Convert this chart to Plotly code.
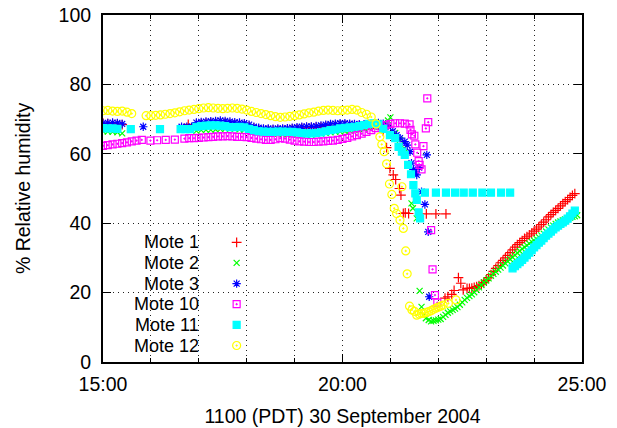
import plotly.graph_objects as go

def hours(start, step, n):
    return [round(start + step * i, 3) for i in range(n)]

# ---------------- data (hours since midnight, % RH) ----------------
# Mote 1
m1_t = (hours(15.0, 0.1, 5) + [16.78] + hours(16.95, 0.1, 40)
        + [20.92, 20.99, 21.06, 21.11, 21.19, 21.22, 21.27, 21.31, 21.38, 21.75, 21.95, 22.16]
        + [22.14, 22.2, 22.28, 22.33, 22.42, 22.47, 22.52, 22.6]
        + hours(22.65, 0.05, 45))
m1_v = ([68.8, 68.7, 68.6, 68.5, 68.4] + [68.5]
        + [68.6, 68.7, 68.8, 68.9, 69.0, 69.0, 68.9, 68.7, 68.5, 68.4, 68.2, 67.9, 67.4, 67.1,
           66.9, 66.9, 66.8, 66.8, 66.9, 67.0, 67.1, 67.2, 67.4, 67.5, 67.5, 67.6, 67.7, 67.9,
           68.1, 68.2, 68.3, 68.3, 68.2, 68.1, 68.0, 68.1, 68.3, 68.5, 68.3, 66.5]
        + [61.8, 55.8, 53.9, 52.6, 50.0, 48.1, 42.8, 43.0, 42.8, 42.7, 42.7, 42.7]
        + [18.4, 18.8, 19.5, 20.6, 24.3, 22.7, 20.8, 21.2]
        + [21.2, 21.3, 21.5, 21.7, 22.0, 22.4, 22.9, 23.5, 24.3, 25.2, 26.1, 27.0, 27.8, 28.6,
           29.3, 30.0, 30.7, 31.5, 32.3, 33.1, 33.8, 34.4, 35.0, 35.6, 36.1, 36.6, 37.1, 37.7,
           38.3, 38.9, 39.6, 40.3, 41.0, 41.8, 42.5, 43.1, 43.7, 44.3, 45.0, 45.6, 46.2, 46.8,
           47.4, 48.0, 48.5])

# Mote 2
m2_t = (hours(15.0, 0.1, 5) + hours(16.95, 0.1, 41) + [21.0]
        + [21.1, 21.2, 21.29, 21.44, 21.47, 21.52, 21.55, 21.61, 21.65, 21.69, 21.74, 21.8, 21.85, 21.9]
        + hours(21.95, 0.05, 60))
m2_v = ([66.5, 66.4, 66.3, 66.2, 65.9]
        + [66.6, 66.8, 66.9, 66.9, 67.0, 67.1, 67.2, 67.3, 67.2, 67.0, 66.9, 66.8, 66.6, 66.3,
           66.0, 65.9, 65.8, 65.8, 65.7, 65.6, 65.6, 65.5, 65.5, 65.4, 65.5, 65.6, 65.8, 66.0,
           66.2, 66.3, 66.4, 66.5, 66.7, 66.9, 67.1, 67.3, 67.5, 67.8, 68.2, 68.8, 69.6]
        + [70.5]
        + [66.0, 64.0, 61.6, 45.7, 44.3, 48.6, 41.4, 20.5, 15.9, 13.5, 12.6, 12.1, 11.7, 11.9]
        + [12.0, 12.2, 12.4, 13.0, 13.6, 14.2, 14.6, 15.0, 15.4, 15.8, 16.5, 17.2, 17.9, 18.5,
           19.0, 19.5, 20.1, 20.8, 21.5, 22.2, 22.9, 23.5, 24.1, 24.8, 25.4, 26.0, 26.6, 27.2,
           27.8, 28.4, 29.0, 29.6, 30.2, 30.8, 31.4, 32.0, 32.6, 33.1, 33.6, 34.1, 34.6, 35.0,
           35.5, 36.0, 36.5, 37.0, 37.6, 38.2, 38.8, 39.3, 39.8, 40.2, 40.5, 40.8, 41.1, 41.3,
           41.6, 41.8, 42.0, 42.3])

# Mote 3
m3_t = (hours(15.0, 0.1, 5) + [15.84, 16.64, 16.75, 16.85] + hours(16.95, 0.1, 41)
        + [21.05, 21.13, 21.2, 21.3, 21.35, 21.41, 21.44, 21.48, 21.51, 21.55, 21.6, 21.65,
           21.72, 21.76, 21.79, 21.81])
m3_v = ([68.8, 68.9, 69.0, 68.9, 68.6] + [67.8, 67.8, 67.8, 67.8]
        + [69.0, 69.2, 69.3, 69.4, 69.5, 69.6, 69.5, 69.3, 69.1, 69.0, 68.8, 68.4, 67.8, 67.5,
           67.3, 67.3, 67.2, 67.3, 67.3, 67.4, 67.5, 67.7, 67.8, 67.9, 67.9, 68.0, 68.2, 68.4,
           68.6, 68.7, 68.8, 68.8, 68.7, 68.6, 68.5, 68.5, 68.6, 68.8, 68.9, 68.7, 68.0]
        + [66.5, 65.4, 64.5, 63.5, 62.5, 60.6, 57.3, 55.5, 54.8, 53.9, 56.0, 49.1,
           45.4, 59.7, 37.5, 18.8])

# Mote 10
m10_t = (hours(15.0, 0.1, 8) + [15.81, 15.99, 16.13, 16.31, 16.5] + hours(16.7, 0.1, 48)
         + [21.42, 21.45, 21.5, 21.52, 21.56, 21.59, 21.61, 21.65, 21.69, 21.74, 21.77, 21.79,
            21.85, 21.88, 21.93, 21.98])
m10_v = ([62.3, 62.5, 62.7, 62.9, 63.1, 63.3, 63.6, 63.8] + [64.0, 63.8, 63.9, 64.0, 64.1]
         + [64.4, 64.5, 64.5, 64.6, 64.7, 64.8, 64.9, 65.0, 65.0, 65.1, 65.0, 64.9, 64.9, 64.8,
            64.6, 64.4, 64.2, 64.0, 64.0, 64.2, 64.5, 64.4, 64.1, 63.8, 63.6, 63.5, 63.4, 63.4,
            63.5, 63.6, 63.7, 63.8, 64.0, 64.3, 64.6, 65.0, 65.4, 65.8, 66.3, 66.8,
            67.4, 67.9, 68.3, 68.6, 68.8, 68.8, 68.7, 68.5]
         + [66.9, 65.6, 65.2, 62.7, 60.3, 57.9, 56.8, 55.5, 62.2, 67.3, 76.0, 69.1,
            38.0, 26.7, 19.3, 17.1])

# Mote 11
m11_t = (hours(15.0, 0.1, 4) + [15.58, 16.19, 16.62, 16.72, 16.82] + hours(16.95, 0.1, 38)
         + [20.75, 20.85, 20.99, 21.1, 21.17, 21.24, 21.3, 21.37, 21.43, 21.48, 21.52, 21.55,
            21.59, 21.62]
         + [21.72, 21.95, 22.16, 22.35, 22.53, 22.72, 22.92, 23.1, 23.31, 23.5]
         + hours(23.55, 0.05, 27))
m11_v = ([67.4, 67.3, 67.3, 67.2] + [67.1, 67.1, 67.1, 67.1, 67.1]
         + [67.8, 68.0, 68.1, 68.2, 68.2, 68.1, 68.0, 67.7, 67.7, 67.8, 67.6, 67.2, 66.8, 66.5,
            66.4, 66.3, 66.3, 66.4, 66.4, 66.3, 66.3, 66.2, 66.0, 65.9, 65.9, 66.0, 66.2, 66.5,
            66.8, 67.0, 67.3, 67.5, 67.6, 67.8, 68.0, 68.3, 68.6, 68.8]
         + [68.5, 67.2, 65.4, 64.5, 62.0, 60.6, 59.7, 56.8, 54.1, 51.0, 48.6, 46.7, 43.1, 41.4]
         + [48.8, 48.8, 48.8, 48.8, 48.8, 48.8, 48.8, 48.8, 48.8, 48.8]
         + [27.0, 27.6, 28.2, 28.8, 29.4, 30.1, 30.8, 31.5, 32.2, 33.0, 33.7, 34.4, 35.0, 35.7,
            36.4, 37.0, 37.6, 38.2, 38.8, 39.3, 39.8, 40.2, 40.7, 41.3, 42.0, 42.8, 43.6])

# Mote 12
m12_t = (hours(15.0, 0.1, 7) + hours(15.9, 0.1, 49)
         + [20.78, 20.82, 20.87, 20.92, 20.98, 21.03, 21.08, 21.13, 21.2, 21.24, 21.27, 21.32,
            21.35, 21.4, 21.45, 21.5, 21.55, 21.6, 21.65, 21.7, 21.75, 21.8, 21.85, 21.9, 21.95,
            22.0, 22.05, 22.1, 22.21, 22.37])
m12_v = ([72.4, 72.5, 72.3, 72.2, 72.3, 72.0, 71.6]
         + [71.0, 71.0, 71.1, 71.2, 71.4, 71.6, 71.8, 72.1, 72.4, 72.6, 72.8, 73.0, 73.2, 73.3,
            73.2, 73.1, 73.0, 73.1, 73.2, 73.1, 72.9, 72.6, 72.2, 71.9, 71.6, 71.3, 71.0, 70.7,
            70.5, 70.6, 70.8, 71.0, 71.2, 71.5, 71.8, 72.0, 72.3, 72.5, 72.6, 72.5, 72.4, 72.5,
            72.6, 72.8, 72.6, 71.9, 71.4, 70.6, 68.6]
         + [64.9, 62.7, 60.6, 57.1, 51.3, 48.3, 44.3, 42.8, 40.9, 50.5, 38.5, 32.0,
            25.4, 16.1, 15.0, 14.6, 13.5, 13.8, 14.0, 14.0, 14.3, 14.5, 14.8, 15.2, 15.5,
            15.8, 16.1, 16.4, 16.9, 17.9])

names = ["Mote 1", "Mote 2", "Mote 3", "Mote 10", "Mote 11", "Mote 12"]
series = [(m1_t, m1_v), (m2_t, m2_v), (m3_t, m3_v), (m10_t, m10_v), (m11_t, m11_v), (m12_t, m12_v)]
x_tickvals = [15, 20, 25]
x_ticktext = ["15:00", "20:00", "25:00"]

# ---------------- styles ----------------
colors = ["#ff0000", "#00ff00", "#0000ff", "#ff00ff", "#00ffff", "#ffff00"]
symbols = ["cross-thin-open", "x-thin-open", "asterisk-open", "square-open-dot", "square", "circle-open-dot"]
sizes = [7, 6, 7, 7, 7, 8]
FONT = "Liberation Sans, Arial, Helvetica, sans-serif"
FS = 19.5
KEY_FS = 18

fig = go.Figure()
for name, (t, v), c, s, sz in zip(names, series, colors, symbols, sizes):
    fig.add_trace(go.Scatter(
        x=t, y=v, mode="markers", name=name, showlegend=False,
        marker=dict(symbol=s, size=sz, color=c, line=dict(width=1.2, color=c)),
    ))

# custom gnuplot-style key (text right-aligned, sample to the right)
key_x_text = 0.203
key_x_mark = 0.279
key_top, key_step = 0.345, 0.0595
for i, (name, c, s, sz) in enumerate(zip(names, colors, symbols, sizes)):
    ky = key_top - i * key_step
    fig.add_trace(go.Scatter(
        x=[key_x_mark], y=[ky], xaxis="x2", yaxis="y2", mode="markers", showlegend=False,
        hoverinfo="skip",
        marker=dict(symbol=s, size=sz, color=c, line=dict(width=1.2, color=c)),
    ))
    fig.add_annotation(x=key_x_text, y=ky, xref="paper", yref="paper", text=name,
                       showarrow=False, xanchor="right", yanchor="middle",
                       borderpad=0,
                       font=dict(family=FONT, size=KEY_FS, color="black"))

fig.add_shape(type="rect", xref="paper", yref="paper", x0=0.0, x1=0.361, y0=0.02, y1=0.375,
              fillcolor="white", line=dict(width=0), layer="between")

GRID_COLOR = "#222222"
grid_style = dict(showgrid=True, gridcolor=GRID_COLOR, gridwidth=1, griddash="1px,4px")

fig.update_layout(
    width=617, height=428,
    margin=dict(l=103, r=35, t=15, b=66, autoexpand=False),
    paper_bgcolor="white", plot_bgcolor="white",
    font=dict(family=FONT, size=FS, color="black"),
    xaxis=dict(
        range=[15, 25], tickvals=x_tickvals, ticktext=x_ticktext, automargin=False,
        ticks="inside", ticklen=8, tickwidth=1, tickcolor="black",
        showline=True, linecolor="black", linewidth=2, mirror="ticks",
        zeroline=False, **grid_style,
        minor=dict(dtick=1, ticks="inside", ticklen=4, tickcolor="black",
                   showgrid=True, gridcolor=GRID_COLOR, gridwidth=1, griddash="1px,4px"),
        title=dict(text="1100 (PDT) 30 September 2004", standoff=15,
                   font=dict(family=FONT, size=FS)),
        tickfont=dict(family=FONT, size=FS),
        ticklabelstandoff=4,
    ),
    yaxis=dict(
        range=[0, 100], dtick=20, automargin=False,
        ticks="inside", ticklen=8, tickwidth=1, tickcolor="black",
        showline=True, linecolor="black", linewidth=2, mirror="ticks",
        zeroline=False, **grid_style,
        title=dict(text="% Relative humidity", standoff=23,
                   font=dict(family=FONT, size=FS)),
        tickfont=dict(family=FONT, size=FS),
        ticklabelstandoff=6,
    ),
    xaxis2=dict(overlaying="x", range=[0, 1], visible=False, fixedrange=True),
    yaxis2=dict(overlaying="y", range=[0, 1], visible=False, fixedrange=True),
)

fig.write_html("out.html")
